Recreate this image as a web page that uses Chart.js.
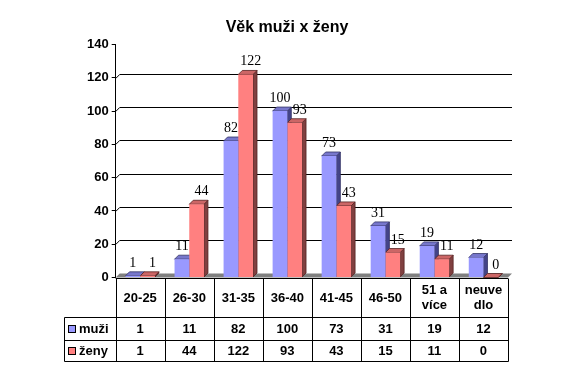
<!DOCTYPE html>
<html>
<head>
<meta charset="utf-8">
<script src="https://cdn.jsdelivr.net/npm/chart.js@4"></script>
<style>body{margin:0;background:#fff}</style>
</head>
<body>
<canvas id="vekChart" width="577" height="378"></canvas>
<script>
const title = 'Věk muži x ženy';
const categories = ['20-25', '26-30', '31-35', '36-40', '41-45', '46-50', ['51 a', 'více'], ['neuve', 'dlo']];
const seriesNames = ['muži', 'ženy'];
const muzi = [1, 11, 82, 100, 73, 31, 19, 12];
const zeny = [1, 44, 122, 93, 43, 15, 11, 0];
const yTicks = [0, 20, 40, 60, 80, 100, 120, 140];

const SANS = '"Liberation Sans", Arial, sans-serif';
const SERIF = '"Liberation Serif", "Times New Roman", serif';
const D = 4; // 3d depth
const faces = [
  { front: '#9999ff', top: '#7777cc', side: '#444488', edge: '#333366', labelDx: 0 },
  { front: '#ff8080', top: '#cc6666', side: '#804040', edge: '#552222', labelDx: 5 },
];

function poly(ctx, pts, fill, stroke) {
  ctx.beginPath();
  ctx.moveTo(pts[0][0], pts[0][1]);
  for (let i = 1; i < pts.length; i++) ctx.lineTo(pts[i][0], pts[i][1]);
  ctx.closePath();
  ctx.fillStyle = fill;
  ctx.fill();
  if (stroke) { ctx.strokeStyle = stroke; ctx.lineWidth = 0.8; ctx.stroke(); }
}

const excel3d = {
  id: 'excel3d',
  beforeDatasetsDraw(chart) {
    const { ctx, chartArea: a, scales: { y } } = chart;
    ctx.save();
    // back wall gridlines
    ctx.strokeStyle = '#000';
    ctx.lineWidth = 1;
    ctx.beginPath();
    yTicks.forEach((v) => {
      if (v <= y.min || v >= y.max) return;
      const py = Math.round(y.getPixelForValue(v)) + 0.5;
      ctx.moveTo(a.left, py);
      ctx.lineTo(a.left + D, py - D);
      ctx.lineTo(a.right + D, py - D);
    });
    ctx.stroke();
    // floor
    poly(ctx, [[a.left, a.bottom], [a.left + D, a.bottom - D], [a.right + D, a.bottom - D], [a.right, a.bottom]], '#808080');
    // top and side faces of the bars
    categories.forEach((_, i) => {
      chart.data.datasets.forEach((ds, di) => {
        const el = chart.getDatasetMeta(di).data[i];
        const { x, y: top, base, width } = el.getProps(['x', 'y', 'base', 'width'], true);
        const L = x - width / 2, R = x + width / 2;
        const f = faces[di];
        poly(ctx, [[R, top], [R + D, top - D], [R + D, base - D], [R, base]], f.side, f.edge);
        poly(ctx, [[L, top], [L + D, top - D], [R + D, top - D], [R, top]], f.top, f.edge);
      });
    });
    ctx.restore();
  },
  afterDraw(chart) {
    const { ctx, chartArea: a } = chart;
    ctx.save();
    ctx.fillStyle = '#000';
    // title
    ctx.font = 'bold 16px ' + SANS;
    ctx.textAlign = 'center';
    ctx.textBaseline = 'alphabetic';
    ctx.fillText(title, 287, 31.5);
    // value labels
    ctx.font = '14px ' + SERIF;
    chart.data.datasets.forEach((ds, di) => {
      chart.getDatasetMeta(di).data.forEach((el, i) => {
        const { x, y: top } = el.getProps(['x', 'y'], true);
        ctx.fillText(String(ds.data[i]), x + faces[di].labelDx, top - 9);
      });
    });
    // data table
    const n = categories.length;
    const bw = a.width / n;
    const keyLeft = 64.5;
    const yTop = Math.round(a.bottom) + 0.5, yHead = 317.5, yRow1 = 340.5, yRow2 = 361.5;
    ctx.strokeStyle = '#000';
    ctx.lineWidth = 1;
    ctx.beginPath();
    ctx.moveTo(a.left, yTop); ctx.lineTo(a.right, yTop);
    [yHead, yRow1, yRow2].forEach((ly) => { ctx.moveTo(keyLeft, ly); ctx.lineTo(Math.round(a.right) + 0.5, ly); });
    ctx.moveTo(keyLeft, yHead); ctx.lineTo(keyLeft, yRow2);
    for (let i = 0; i <= n; i++) {
      const lx = Math.round(a.left + i * bw) + 0.5;
      ctx.moveTo(lx, yTop); ctx.lineTo(lx, yRow2);
    }
    ctx.stroke();
    ctx.font = 'bold 13px ' + SANS;
    ctx.textBaseline = 'middle';
    ctx.textAlign = 'center';
    categories.forEach((c, i) => {
      const cx = a.left + (i + 0.5) * bw;
      const lines = Array.isArray(c) ? c : [c];
      const mid = (yTop + yHead) / 2;
      lines.forEach((t, li) => {
        ctx.fillText(t, cx, mid + (li - (lines.length - 1) / 2) * 15);
      });
      chart.data.datasets.forEach((ds, di) => {
        const rowMid = di === 0 ? (yHead + yRow1) / 2 : (yRow1 + yRow2) / 2;
        ctx.fillText(String(ds.data[i]), cx, rowMid);
      });
    });
    // row keys
    chart.data.datasets.forEach((ds, di) => {
      const rowMid = di === 0 ? (yHead + yRow1) / 2 : (yRow1 + yRow2) / 2;
      ctx.fillStyle = faces[di].front;
      ctx.fillRect(68.5, Math.round(rowMid) - 3.5, 7, 7);
      ctx.strokeRect(68.5, Math.round(rowMid) - 3.5, 7, 7);
      ctx.fillStyle = '#000';
      ctx.textAlign = 'left';
      ctx.fillText(seriesNames[di], 79, rowMid);
    });
    ctx.restore();
  },
};

new Chart(document.getElementById('vekChart'), {
  type: 'bar',
  data: {
    labels: categories,
    datasets: [
      { label: seriesNames[0], data: muzi, backgroundColor: faces[0].front, borderWidth: 0 },
      { label: seriesNames[1], data: zeny, backgroundColor: faces[1].front, borderWidth: 0 },
    ],
  },
  options: {
    responsive: false, animation: false,
    layout: { padding: { top: 44.5, right: 69, bottom: 100.5, left: 0 } },
    datasets: { bar: { categoryPercentage: 0.6, barPercentage: 1 } },
    plugins: { legend: { display: false }, title: { display: false }, tooltip: { enabled: false } },
    scales: {
      x: { display: false },
      y: {
        min: 0, max: 140,
        afterFit: (s) => { s.width = 115.7; },
        afterBuildTicks: (s) => { s.ticks = yTicks.map((v) => ({ value: v })); },
        grid: { drawOnChartArea: false, drawTicks: true, tickLength: 4, color: '#000' },
        border: { display: true, color: '#000' },
        ticks: { font: { family: SANS, size: 13, weight: 'bold' }, color: '#000', padding: 3 },
      },
    },
  },
  plugins: [excel3d],
});
</script>
</body>
</html>
